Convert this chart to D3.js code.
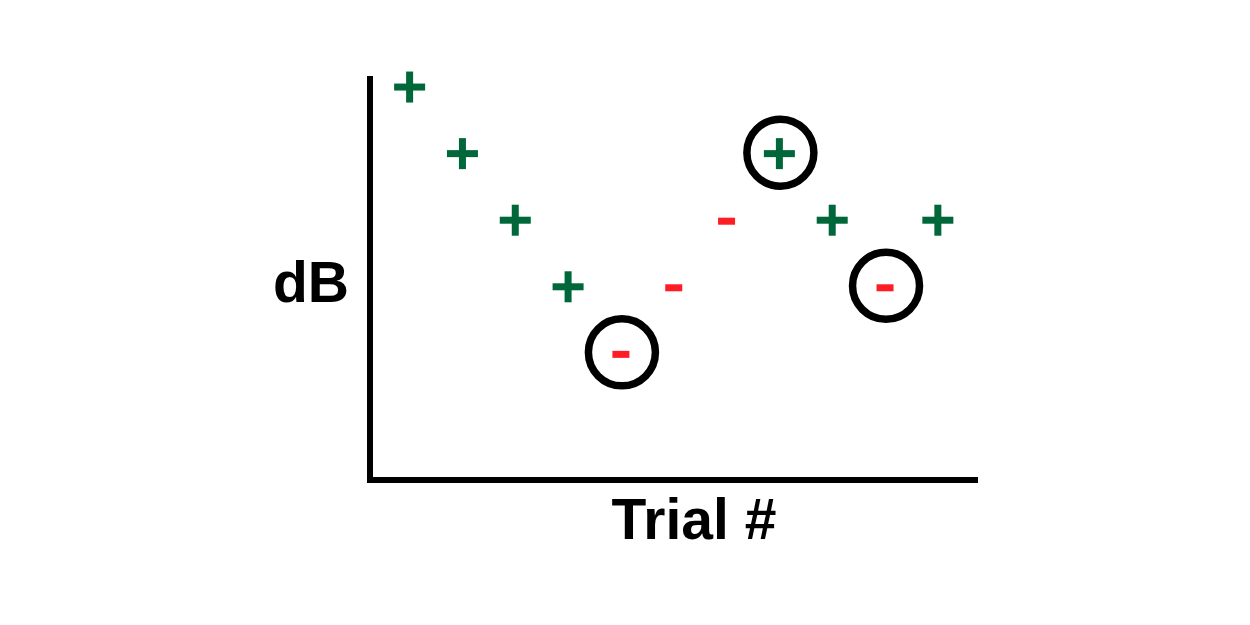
<!DOCTYPE html>
<html>
<head>
<meta charset="utf-8">
<script src="https://cdn.jsdelivr.net/npm/d3@7"></script>
<style>
  html, body { margin: 0; padding: 0; background: #fff; }
  svg { display: block; }
</style>
</head>
<body>
<svg id="chart" width="1250" height="625"></svg>
<script>
// Data
const trials = [1, 2, 3, 4, 5, 6, 7, 8, 9, 10, 11];
const levels = [60, 55, 50, 45, 40, 45, 50, 55, 50, 45, 50];
const responses = ["+", "+", "+", "+", "-", "-", "-", "+", "+", "-", "+"];
const reversals = [5, 8, 10];
const xLabel = "Trial #";
const yLabel = "dB";

const green = "#00673a";
const red = "#ff1d25";

const svg = d3.select("#chart");
const W = 1250, H = 625;
svg.append("rect").attr("width", W).attr("height", H).attr("fill", "#fff");

const x = d3.scaleLinear().domain([0.25, 11.76]).range([370, 978]);
const y = d3.scaleLinear().domain([30.49, 60.83]).range([480, 76]);

const data = trials.map((t, i) => ({ t, v: levels[i], r: responses[i] }));

// Axes (plain lines, no ticks)
const axisW = 6;
svg.append("line")
  .attr("x1", x(0.25)).attr("x2", x(0.25))
  .attr("y1", y(60.83)).attr("y2", y(30.49) + axisW / 2)
  .attr("stroke", "#000").attr("stroke-width", axisW);
svg.append("line")
  .attr("x1", x(0.25) - axisW / 2).attr("x2", x(11.76))
  .attr("y1", y(30.49)).attr("y2", y(30.49))
  .attr("stroke", "#000").attr("stroke-width", axisW);

// Reversal circles
svg.append("g").selectAll("circle")
  .data(data.filter(d => reversals.includes(d.t)))
  .join("circle")
  .attr("cx", d => x(d.t) + 1)
  .attr("cy", d => y(d.v) - 1)
  .attr("r", 33.5)
  .attr("fill", "none")
  .attr("stroke", "#000")
  .attr("stroke-width", 7.5);

// Markers
const plusLen = 31, barT = 7, minusLen = 17;
const g = svg.append("g");
const pts = g.selectAll("g.pt").data(data).join("g")
  .attr("class", "pt")
  .attr("transform", d => `translate(${x(d.t)},${y(d.v)})`);

pts.filter(d => d.r === "+").each(function () {
  const s = d3.select(this);
  s.append("rect").attr("x", -plusLen / 2).attr("y", -barT / 2)
    .attr("width", plusLen).attr("height", barT).attr("fill", green);
  s.append("rect").attr("x", -barT / 2).attr("y", -plusLen / 2)
    .attr("width", barT).attr("height", plusLen).attr("fill", green);
});
pts.filter(d => d.r === "-").append("rect")
  .attr("x", -minusLen / 2).attr("y", -barT / 2 + 1)
  .attr("width", minusLen).attr("height", barT).attr("fill", red);

// Labels
svg.append("text")
  .attr("x", 694).attr("y", 539)
  .attr("text-anchor", "middle")
  .attr("font-family", "Liberation Sans, Arial, Helvetica, sans-serif")
  .attr("font-weight", "bold")
  .attr("font-size", 57)
  .attr("fill", "#000")
  .text(xLabel);

svg.append("text")
  .attr("x", 349).attr("y", 302)
  .attr("text-anchor", "end")
  .attr("font-family", "Liberation Sans, Arial, Helvetica, sans-serif")
  .attr("font-weight", "bold")
  .attr("font-size", 57)
  .attr("fill", "#000")
  .text(yLabel);
</script>
</body>
</html>
